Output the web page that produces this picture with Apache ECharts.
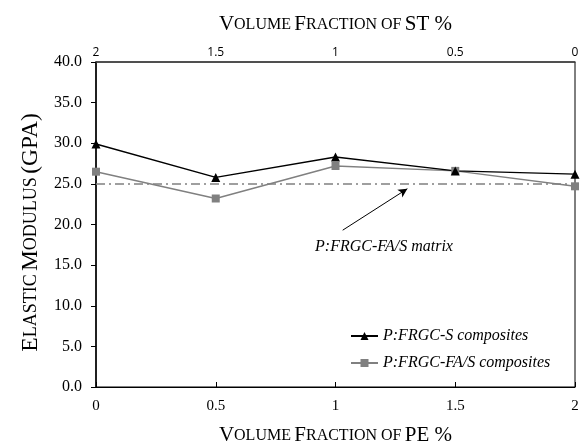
<!DOCTYPE html>
<html>
<head>
<meta charset="utf-8">
<script src="https://cdn.jsdelivr.net/npm/echarts@6/dist/echarts.min.js"></script>
<style>
  html, body { margin: 0; padding: 0; background: #fff; }
  #chart { width: 587px; height: 444px; }
</style>
</head>
<body>
<div id="chart"></div>
<script>
// volume fraction of PE (%) on bottom axis, ST on top axis is 2 - PE
var peFraction = [0, 0.5, 1, 1.5, 2];
var stTicks = ['2', '1.5', '1', '0.5', '0'];
var frgcS = [29.9, 25.8, 28.3, 26.6, 26.2];
var frgcFAS = [26.5, 23.2, 27.2, 26.6, 24.7];
var matrixValue = 25.0;
var arrowFrom = [1.03, 19.3];
var arrowTo = [1.30, 24.4];

var serif = '"Liberation Serif", "Times New Roman", serif';

function pairs(xs, ys) {
  return xs.map(function (x, i) { return [x, ys[i]]; });
}

var chart = echarts.init(document.getElementById('chart'));

// fake small caps with two font sizes
var capsRich = {
  b: { fontFamily: serif, fontSize: 21, color: '#000' },
  s: { fontFamily: serif, fontSize: 16, color: '#000' }
};
var capsRichY = {
  b: { fontFamily: serif, fontSize: 23.5, color: '#000' },
  s: { fontFamily: serif, fontSize: 18, color: '#000' }
};

var option = {
  backgroundColor: '#ffffff',
  animation: false,
  grid: {
    left: 96, right: 12, top: 62, bottom: 57,
    outerBoundsMode: 'none',
    containLabel: false,
    show: true, borderColor: '#000', borderWidth: 1
  },
  legend: {
    orient: 'vertical',
    left: 345, top: 323,
    itemWidth: 27, itemHeight: 10, itemGap: 11,
    data: ['P:FRGC-S composites', 'P:FRGC-FA/S composites'],
    textStyle: { fontFamily: serif, fontStyle: 'italic', fontSize: 16, color: '#000' }
  },
  xAxis: [{
    type: 'value', position: 'bottom',
    min: 0, max: 2, interval: 0.5,
    name: '{b|V}{s|OLUME} {b|F}{s|RACTION OF} {b|PE %}',
    nameLocation: 'middle', nameGap: 38,
    nameTextStyle: { rich: capsRich },
    axisLine: { lineStyle: { color: '#000', width: 1 } },
    axisTick: { inside: true, length: 5, lineStyle: { color: '#000' } },
    axisLabel: { fontFamily: serif, fontSize: 15, color: '#000', margin: 12 },
    splitLine: { show: false }
  }, {
    type: 'value', position: 'top',
    min: 0, max: 2, interval: 0.5, inverse: true,
    name: '{b|V}{s|OLUME} {b|F}{s|RACTION OF} {b|ST %}',
    nameLocation: 'middle', nameGap: 27,
    nameTextStyle: { rich: capsRich },
    axisLine: { lineStyle: { color: '#404040', width: 1.5 } },
    axisTick: { show: false },
    axisLabel: {
      fontFamily: '"Open Sans", "DejaVu Sans", sans-serif', fontSize: 12, color: '#000', margin: 3,
      formatter: function (v) { return stTicks[Math.round((2 - v) / 0.5)]; }
    },
    splitLine: { show: false }
  }],
  yAxis: {
    type: 'value', min: 0, max: 40, interval: 5,
    name: '{b|E}{s|LASTIC} {b|M}{s|ODULUS} {b|(GPA)}',
    nameLocation: 'middle', nameGap: 52, nameRotate: 90,
    nameTextStyle: { rich: capsRichY, padding: [0, 16, 0, 0] },
    axisLine: { show: true, lineStyle: { color: '#000', width: 1.5 } },
    axisTick: { show: true, length: 5, lineStyle: { color: '#000' } },
    axisLabel: {
      fontFamily: serif, fontSize: 16, color: '#000', margin: 14,
      formatter: function (v) { return v.toFixed(1); }
    },
    splitLine: { show: false }
  },
  graphic: [{
    type: 'text', x: 384, y: 247,
    style: {
      text: 'P:FRGC-FA/S matrix', textAlign: 'center', textVerticalAlign: 'middle',
      font: 'italic 16px ' + serif, fill: '#000'
    }
  }],
  series: [{
    name: 'matrix',
    type: 'line',
    data: [[0, matrixValue], [2, matrixValue]],
    symbol: 'none',
    lineStyle: { color: '#808080', width: 1.5, type: [9, 4, 2, 4] },
    silent: true,
    markLine: {
      silent: true,
      symbol: ['none', 'arrow'],
      symbolSize: [7, 9],
      label: { show: false },
      lineStyle: { color: '#000', width: 1, type: 'solid' },
      data: [[{ coord: arrowFrom }, { coord: arrowTo }]]
    }
  }, {
    name: 'P:FRGC-FA/S composites',
    type: 'line',
    data: pairs(peFraction, frgcFAS),
    symbol: 'rect', symbolSize: 8,
    itemStyle: { color: '#808080' },
    lineStyle: { color: '#808080', width: 1.5 }
  }, {
    name: 'P:FRGC-S composites',
    type: 'line',
    data: pairs(peFraction, frgcS),
    symbol: 'triangle', symbolSize: 9,
    itemStyle: { color: '#000' },
    lineStyle: { color: '#000', width: 1.5 }
  }]
};

chart.setOption(option);
</script>
</body>
</html>
